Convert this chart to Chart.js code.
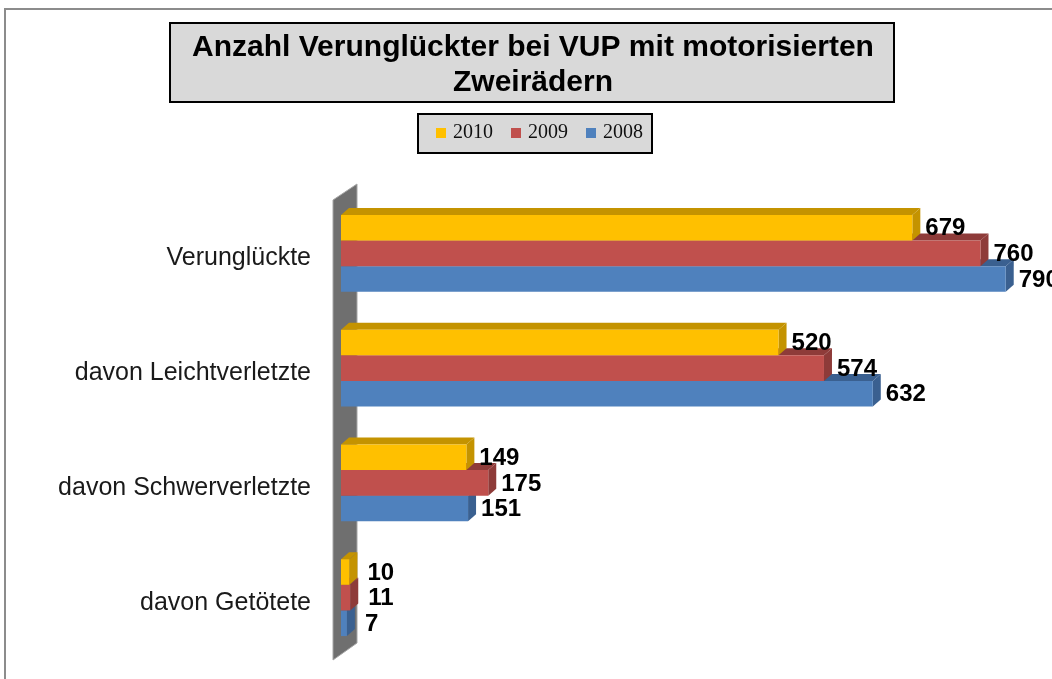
<!DOCTYPE html>
<html>
<head>
<meta charset="utf-8">
<script src="https://cdn.jsdelivr.net/npm/chart.js@4"></script>
<style>
  body { margin: 0; background: #fff; }
  #wrap { width: 1052px; height: 679px; }
</style>
</head>
<body>
<div id="wrap"><canvas id="myChart" width="1052" height="679"></canvas></div>
<script>
// data
const categories = ['Verunglückte', 'davon Leichtverletzte', 'davon Schwerverletzte', 'davon Getötete'];
const years = ['2010', '2009', '2008'];
const values2010 = [679, 520, 149, 10];
const values2009 = [760, 574, 175, 11];
const values2008 = [790, 632, 151, 7];
const titleLines = ['Anzahl Verunglückter bei VUP mit motorisierten', 'Zweirädern'];

const frontColors = ['#FFC000', '#C0504D', '#4F81BD'];
const sideColors = ['#C49300', '#8E3B39', '#3A6090'];
const DX = 8;
const DY = 7;

// frame, title box, legend box
const decorPlugin = {
  id: 'decor',
  beforeDraw(chart) {
    const ctx = chart.ctx;
    ctx.save();
    ctx.fillStyle = '#fff';
    ctx.fillRect(0, 0, chart.width, chart.height);
    // outer frame (only top/left visible)
    ctx.strokeStyle = '#8c8c8c';
    ctx.lineWidth = 2;
    ctx.beginPath();
    ctx.moveTo(5, chart.height);
    ctx.lineTo(5, 9);
    ctx.lineTo(chart.width, 9);
    ctx.stroke();

    // title
    ctx.fillStyle = '#d9d9d9';
    ctx.fillRect(170, 23, 724, 79);
    ctx.strokeStyle = '#000';
    ctx.lineWidth = 2;
    ctx.strokeRect(170, 23, 724, 79);
    ctx.fillStyle = '#000';
    ctx.font = 'bold 30px "Liberation Sans", Arial, sans-serif';
    ctx.textAlign = 'center';
    ctx.textBaseline = 'alphabetic';
    ctx.fillText(titleLines[0], 533, 56);
    ctx.fillText(titleLines[1], 533, 91);

    // legend
    ctx.fillStyle = '#d9d9d9';
    ctx.fillRect(418, 114, 234, 39);
    ctx.strokeStyle = '#000';
    ctx.lineWidth = 2;
    ctx.strokeRect(418, 114, 234, 39);
    ctx.font = '20px "Liberation Serif", serif';
    ctx.textAlign = 'left';
    ctx.textBaseline = 'middle';
    chart.data.datasets.forEach((ds, i) => {
      const x = 436 + i * 75;
      ctx.fillStyle = ds.backgroundColor;
      ctx.fillRect(x, 128, 10, 10);
      ctx.fillStyle = '#111';
      ctx.fillText(ds.label, x + 17, 133);
    });
    ctx.restore();
  },
  beforeDatasetsDraw(chart) {
    const ctx = chart.ctx;
    const a = chart.chartArea;
    ctx.save();
    // back wall
    ctx.fillStyle = '#6f6f6f';
    ctx.strokeStyle = '#a6a6a6';
    ctx.lineWidth = 1;
    ctx.beginPath();
    ctx.moveTo(a.left - 8, a.top + 4);
    ctx.lineTo(a.left + 16, a.top - 12);
    ctx.lineTo(a.left + 16, a.bottom - 12);
    ctx.lineTo(a.left - 8, a.bottom + 5);
    ctx.closePath();
    ctx.fill();
    ctx.stroke();

    // side and top faces of the bars
    for (let d = chart.data.datasets.length - 1; d >= 0; d--) {
      const meta = chart.getDatasetMeta(d);
      ctx.fillStyle = sideColors[d];
      meta.data.forEach(bar => {
        const top = bar.y - bar.height / 2;
        const bottom = bar.y + bar.height / 2;
        ctx.beginPath();
        ctx.moveTo(bar.x, top);
        ctx.lineTo(bar.x + DX, top - DY);
        ctx.lineTo(bar.x + DX, bottom - DY);
        ctx.lineTo(bar.x, bottom);
        ctx.closePath();
        ctx.fill();
        ctx.beginPath();
        ctx.moveTo(bar.base, top);
        ctx.lineTo(bar.base + DX, top - DY);
        ctx.lineTo(bar.x + DX, top - DY);
        ctx.lineTo(bar.x, top);
        ctx.closePath();
        ctx.fill();
      });
    }
    ctx.restore();
  },
  afterDatasetsDraw(chart) {
    const ctx = chart.ctx;
    ctx.save();
    ctx.fillStyle = '#000';
    ctx.font = 'bold 24px "Liberation Sans", Arial, sans-serif';
    ctx.textAlign = 'left';
    ctx.textBaseline = 'middle';
    chart.data.datasets.forEach((ds, d) => {
      chart.getDatasetMeta(d).data.forEach((bar, i) => {
        const gap = ds.data[i] < 20 ? 18 : 13;
        ctx.fillText(String(ds.data[i]), bar.x + gap, bar.y + 1);
      });
    });
    ctx.restore();
  }
};

const ctx = document.getElementById('myChart');
const myChart = new Chart(ctx, {
  type: 'bar',
  data: {
    labels: categories,
    datasets: [
      { label: years[0], data: values2010, backgroundColor: frontColors[0] },
      { label: years[1], data: values2009, backgroundColor: frontColors[1] },
      { label: years[2], data: values2008, backgroundColor: frontColors[2] },
    ],
  },
  options: {
    indexAxis: 'y',
    responsive: false,
    animation: false,
    layout: { padding: { left: 0, right: 0, top: 196, bottom: 24 } },
    datasets: {
      bar: { categoryPercentage: 0.67, barPercentage: 1.0, borderWidth: 0 },
    },
    plugins: {
      legend: { display: false },
      title: { display: false },
      tooltip: { enabled: false },
    },
    scales: {
      x: {
        display: false,
        min: 0,
        max: 845,
      },
      y: {
        grid: { display: false, drawTicks: false },
        border: { display: false },
        afterFit(scale) {
          scale.width = 341;
          scale.paddingTop = 0;
          scale.paddingBottom = 0;
        },
        ticks: {
          padding: 30,
          labelOffset: 5,
          color: '#1a1a1a',
          font: { family: '"Liberation Sans", Arial, sans-serif', size: 25 },
        },
      },
    },
  },
  plugins: [decorPlugin],
});
</script>
</body>
</html>
